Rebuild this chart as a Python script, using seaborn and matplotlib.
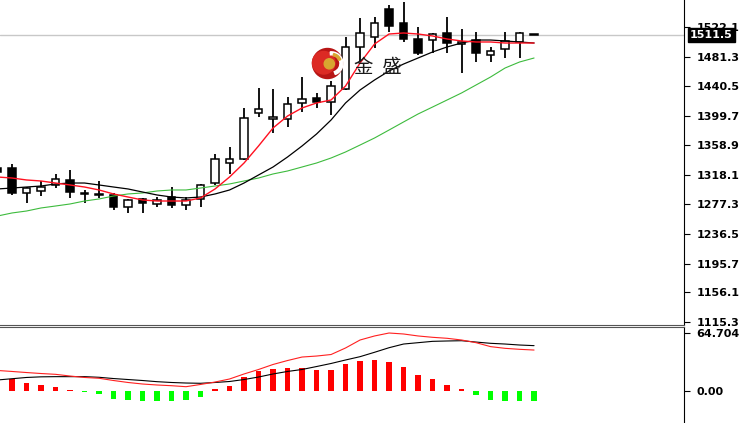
import numpy as np
import pandas as pd
import matplotlib
matplotlib.use("Agg")
import matplotlib.pyplot as plt
import matplotlib.transforms as mtrans
from matplotlib.patches import Circle, Wedge
import seaborn as sns

# candle data (oldest -> newest)
opens = [1327.6, 1327.6, 1293.2, 1295.9, 1304.2, 1311.1, 1291.8, 1290.4, 1290.4, 1273.8,
         1284.9, 1278.0, 1287.6, 1276.6, 1284.9, 1306.9, 1334.5, 1340.0, 1403.5, 1395.2,
         1395.2, 1417.3, 1424.2, 1418.6, 1436.6, 1494.5, 1508.3, 1546.9, 1527.6, 1505.5,
         1504.1, 1513.8, 1498.6, 1504.1, 1483.5, 1491.7, 1501.4, 1512.0]
highs = [1330.4, 1333.1, 1301.4, 1309.7, 1319.4, 1324.9, 1297.3, 1309.7, 1293.2, 1284.9,
         1286.3, 1287.6, 1301.4, 1287.6, 1305.6, 1346.9, 1356.6, 1410.4, 1437.9, 1436.6,
         1425.5, 1453.1, 1431.1, 1447.6, 1508.3, 1534.5, 1535.9, 1552.4, 1556.5, 1522.1,
         1513.8, 1535.9, 1519.3, 1515.2, 1494.5, 1515.2, 1515.2, 1512.4]
lows = [1319.4, 1290.4, 1279.4, 1289.0, 1300.0, 1286.3, 1279.4, 1286.3, 1269.7, 1265.6,
        1265.6, 1273.8, 1272.5, 1269.7, 1273.8, 1304.2, 1319.4, 1338.7, 1398.0, 1375.9,
        1384.2, 1404.9, 1410.4, 1400.7, 1435.2, 1473.8, 1493.1, 1515.2, 1501.4, 1483.5,
        1486.2, 1486.2, 1458.6, 1473.8, 1473.8, 1479.3, 1479.3, 1510.6]
closes = [1322.1, 1293.2, 1300.0, 1301.4, 1312.5, 1294.5, 1293.2, 1291.8, 1273.8, 1283.5,
          1279.4, 1283.5, 1276.6, 1283.5, 1304.2, 1340.0, 1340.0, 1396.6, 1409.0, 1398.0,
          1415.9, 1422.8, 1418.6, 1440.7, 1494.5, 1513.8, 1527.6, 1523.4, 1505.5, 1486.2,
          1512.4, 1500.0, 1501.4, 1486.2, 1489.0, 1502.8, 1513.8, 1511.5]

# moving averages as drawn
ma_fast = [1315.2, 1313.8, 1311.1, 1309.7, 1306.9, 1304.2, 1301.4, 1297.3, 1291.8, 1287.6,
           1283.5, 1282.1, 1282.1, 1282.1, 1286.3, 1298.7, 1315.2, 1334.5, 1358.0, 1382.8,
           1399.3, 1410.4, 1417.3, 1421.4, 1440.7, 1472.4, 1498.6, 1512.4, 1513.8, 1512.4,
           1509.7, 1505.5, 1502.8, 1501.4, 1501.4, 1500.0, 1500.0, 1500.0]
ma_mid = [1298.7, 1300.0, 1301.4, 1302.8, 1305.6, 1306.9, 1306.9, 1304.2, 1301.4, 1298.7,
          1294.5, 1290.4, 1287.6, 1286.3, 1287.6, 1291.8, 1297.3, 1306.9, 1318.0, 1329.0,
          1342.8, 1358.0, 1374.5, 1393.8, 1417.3, 1435.2, 1449.0, 1461.4, 1471.0, 1479.3,
          1487.6, 1494.5, 1500.0, 1504.1, 1504.1, 1502.8, 1501.4, 1500.0]
ma_slow = [1261.4, 1265.6, 1268.3, 1272.5, 1275.2, 1278.0, 1282.1, 1284.9, 1289.0, 1291.8,
           1293.2, 1295.9, 1297.3, 1297.3, 1300.0, 1302.8, 1305.6, 1309.7, 1313.8, 1319.4,
           1323.5, 1329.0, 1334.5, 1341.4, 1349.7, 1359.3, 1369.0, 1380.0, 1391.1, 1402.1,
           1411.7, 1421.4, 1431.1, 1442.1, 1453.1, 1465.5, 1473.8, 1479.3]

# MACD panel
macd_hist = [12.3, 13.4, 9.3, 6.3, 4.1, 1.1, -1.5, -3.9, -9.3, -10.0,
             -10.8, -10.8, -10.8, -10.0, -7.1, 1.9, 5.6, 15.2, 22.7, 24.5,
             25.3, 25.3, 23.4, 23.4, 29.7, 33.5, 34.6, 32.7, 26.4, 17.8,
             13.4, 6.7, 2.2, -4.5, -10.0, -10.8, -10.8, -10.8]
macd_dif = [22.9, 21.8, 20.6, 19.5, 18.6, 16.7, 15.1, 14.2, 11.7, 9.5,
            7.8, 6.7, 5.9, 4.8, 7.3, 10.0, 13.4, 19.0, 24.0, 29.6,
            34.0, 37.9, 39.0, 40.7, 48.0, 56.9, 61.4, 64.7, 63.6, 61.4,
            59.9, 58.8, 56.9, 53.9, 49.5, 47.6, 46.5, 45.7]
macd_dea = [12.3, 13.7, 15.1, 15.8, 16.0, 16.0, 16.0, 15.3, 13.9, 12.8,
            11.7, 10.4, 9.5, 8.9, 8.6, 9.5, 10.6, 12.8, 15.6, 19.0,
            21.8, 24.0, 27.3, 30.7, 34.6, 38.3, 43.2, 48.3, 52.4, 53.9,
            55.4, 55.8, 56.1, 54.6, 53.2, 52.4, 51.3, 50.6]

last_price = 1511.5
price_ticks = [1522.1, 1481.3, 1440.5, 1399.7, 1358.9, 1318.1, 1277.3, 1236.5, 1195.7, 1156.1, 1115.3]
price_top_label = 1562.9
macd_ticks = [64.704, 0.0]
macd_labels = ["64.704", "0.00"]

df = pd.DataFrame({"open": opens, "high": highs, "low": lows, "close": closes,
                   "ma_fast": ma_fast, "ma_mid": ma_mid, "ma_slow": ma_slow,
                   "hist": macd_hist, "dif": macd_dif, "dea": macd_dea})
df["idx"] = np.arange(len(df))

sns.set_style("white")
plt.rcParams["font.family"] = ["DejaVu Sans", "Noto Sans CJK SC"]

W, H = 745, 423
fig = plt.figure(figsize=(W / 100, H / 100), dpi=100)
ax = fig.add_axes([0, 1 - 325 / H, 684 / W, 325 / H])
ax2 = fig.add_axes([0, 0, 684 / W, 1 - 327 / H])

xlim = (0.17, 47.34)

# --- price panel ---
ax.axhline(last_price, color="#c8c8c8", lw=1, zorder=1)
up = df["close"] >= df["open"]
ax.vlines(df["idx"], df["low"], df["high"], color="black", lw=1.3, zorder=2)
ax.bar(df["idx"], df["close"] - df["open"], bottom=df["open"], width=0.54,
       color=np.where(up, "white", "black"), edgecolor="black", linewidth=1.1, zorder=3)
sns.lineplot(data=df, x="idx", y="ma_slow", ax=ax, color="#3dbb3d", lw=0.8, zorder=4)
sns.lineplot(data=df, x="idx", y="ma_mid", ax=ax, color="black", lw=0.9, zorder=4)
sns.lineplot(data=df, x="idx", y="ma_fast", ax=ax, color="#ff1020", lw=1.0, zorder=5)

ax.set_xlim(*xlim)
ax.set_ylim(1111.1, 1559.3)
ax.set_xlabel("")
ax.set_ylabel("")
ax.set_xticks([])
ax.yaxis.tick_right()
ax.set_yticks(price_ticks)
ax.set_yticklabels([f"{v:.1f}" for v in price_ticks])
ax.tick_params(axis="y", direction="out", length=4, width=0.8, pad=5,
               labelsize=8, colors="black")
for lab in ax.get_yticklabels():
    lab.set_fontweight("bold")
for s in ["left", "top"]:
    ax.spines[s].set_visible(False)
ax.spines["right"].set_color("black")
ax.spines["bottom"].set_color("#555555")

blend = mtrans.blended_transform_factory(ax.transAxes, ax.transData)
ax.text(1.0 + 11 / 684, price_top_label, f"{price_top_label:.1f}", transform=blend,
        va="center", ha="left", fontsize=8, fontweight="bold", clip_on=False)
ax.text(1.0 + 6 / 684, last_price, f"{last_price:.1f}", transform=blend,
        va="center", ha="left", fontsize=8, fontweight="bold", color="white", clip_on=False,
        bbox=dict(boxstyle="square,pad=0.18", facecolor="black", edgecolor="black"))

# watermark
ax.text(378 / 684, 1 - 67 / 325, "金  盛", transform=ax.transAxes, ha="center", va="center",
        fontsize=14, family=["Noto Sans CJK SC", "DejaVu Sans"], color="#1a1a1a", zorder=6)
logo = fig.add_axes([311 / W, 1 - 80 / H, 33 / W, 33 / H])
logo.set_xlim(-1.1, 1.1)
logo.set_ylim(-1.1, 1.1)
logo.set_aspect("equal")
logo.axis("off")
logo.add_patch(Circle((0, 0), 1.0, color="#b81515"))
logo.add_patch(Circle((-0.25, 0.05), 0.75, color="#dc2a24"))
logo.add_patch(Wedge((0.25, 0.0), 0.78, -70, 95, width=0.2, color="white"))
logo.add_patch(Wedge((0.3, 0.05), 0.62, 20, 80, width=0.15, color="#d8a630"))
logo.add_patch(Circle((0.12, -0.02), 0.34, color="#d8a630"))

# --- MACD panel ---
ax2.bar(df["idx"], df["hist"], width=0.38,
        color=np.where(df["hist"] >= 0, "#ff0000", "#00ff00"), linewidth=0, zorder=2)
sns.lineplot(data=df, x="idx", y="dea", ax=ax2, color="black", lw=0.8, zorder=3)
sns.lineplot(data=df, x="idx", y="dif", ax=ax2, color="#ff2020", lw=0.8, zorder=3)
ax2.set_xlim(*xlim)
ax2.set_ylim(-35.7, 71.4)
ax2.set_xlabel("")
ax2.set_ylabel("")
ax2.set_xticks([])
ax2.yaxis.tick_right()
ax2.set_yticks(macd_ticks)
ax2.set_yticklabels(macd_labels)
ax2.tick_params(axis="y", direction="out", length=4, width=0.8, pad=5,
                labelsize=8, colors="black")
for lab in ax2.get_yticklabels():
    lab.set_fontweight("bold")
for s in ["left", "bottom"]:
    ax2.spines[s].set_visible(False)
ax2.spines["right"].set_color("black")
ax2.spines["top"].set_color("#555555")

fig.savefig("out.png", dpi=100)
